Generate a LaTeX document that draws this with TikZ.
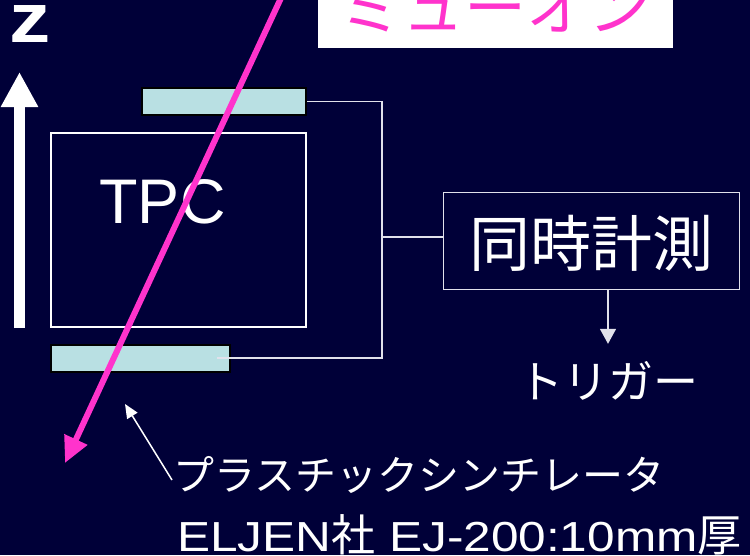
\documentclass[tikz,border=0pt]{standalone}
\usepackage{fontspec}
\setmainfont{Liberation Sans}
\newfontfamily\jp{Noto Sans CJK JP}
\newfontfamily\widesans[FakeStretch=1.18]{Liberation Sans}
\usetikzlibrary{arrows.meta}
\definecolor{bg}{RGB}{0,0,56}
\definecolor{muon}{RGB}{255,51,204}
\definecolor{scint}{RGB}{185,224,227}
\definecolor{wire}{RGB}{225,225,235}
\newcommand\setfs[1]{\fontsize{#1}{#1}\selectfont}
\begin{document}
\begin{tikzpicture}[x=1pt,y=-1pt,
  scintbar/.style={draw=black, line width=2pt, fill=scint, inner sep=0pt, minimum height=27pt},
  wirestyle/.style={draw=wire, line width=1.5pt},
  whitetext/.style={text=white, inner sep=0pt},
  smallarrow/.style={wirestyle, -{Triangle[width=16pt,length=15pt]}}]
\useasboundingbox (0,0) rectangle (750,555);
\fill[bg] (0,0) rectangle (750,555);
\clip (0,0) rectangle (750,555);

% z axis
\node[whitetext, anchor=base, font=\widesans\bfseries\setfs{70}, text height=38pt] (zlbl) at (30,42) {z};
\coordinate (zbot) at (19.5,328);
\coordinate (ztop) at (19.5,72);
\draw[white, line width=11pt, -{Triangle[width=35pt,length=35pt]}] (zbot) -- (ztop);

% detectors
\node[scintbar, minimum width=164pt] (scintTop) at (224,101.5) {};
\node[scintbar, minimum width=179pt] (scintBot) at (140.5,358.5) {};
\node[draw=white, line width=2pt, minimum width=255pt, minimum height=194pt, inner sep=0pt] (tpc) at (178.5,230) {};
\node[whitetext, anchor=base, font=\setfs{63}] (tpclbl) at (162.5,223) {TPC};

% coincidence
\node[draw=wire, line width=1.5pt, minimum width=296pt, minimum height=97pt, inner sep=0pt,
      text=white, font=\jp\setfs{61}, text height=55pt, text depth=5pt] (coinc) at (591.5,241) {同時計測};
\coordinate (busTop) at (382,101.5);
\coordinate (busMid) at (382,237);
\coordinate (busBot) at (382,358);
\coordinate (botTap) at (217,358);
\draw[wirestyle] (scintTop.east) -- (busTop) -- (busBot) -- (botTap);
\draw[wirestyle] (busMid) -- (busMid -| coinc.west);

% trigger
\node[whitetext, anchor=base, font=\jp\setfs{45}, text height=36pt] (trig) at (608,398) {トリガー};
\draw[smallarrow, shorten >=18pt] (coinc.south -| trig.north) -- (trig.north);

% muon label
\node[fill=white, minimum width=355pt, minimum height=96pt, inner sep=0pt, text=muon,
      font=\jp\setfs{62}, text height=67pt, text depth=7pt] (muonlbl) at (495.5,0) {ミューオン};

% scintillator label
\node[whitetext, anchor=base west, font=\jp\setfs{41}] (scintlbl) at (173,490) {プラスチックシンチレータ};
\node[whitetext, anchor=base west, font=\widesans\setfs{42}] (maker) at (177,551) {ELJEN{\jp\setfs{44}社} EJ-200:10mm{\jp\setfs{44}厚}};
\coordinate (lblTail) at (172,480);
\coordinate (lblTip) at (125,404);
\draw[white, line width=1.5pt, -{Triangle[width=12pt,length=14pt]}] (lblTail) -- (lblTip);

% muon track
\coordinate (muStart) at (283.3,-7);
\coordinate (muEnd) at (65,463);
\draw[muon, line width=6pt, -{Triangle[width=24pt,length=26pt]}] (muStart) -- (muEnd);
\end{tikzpicture}
\end{document}
